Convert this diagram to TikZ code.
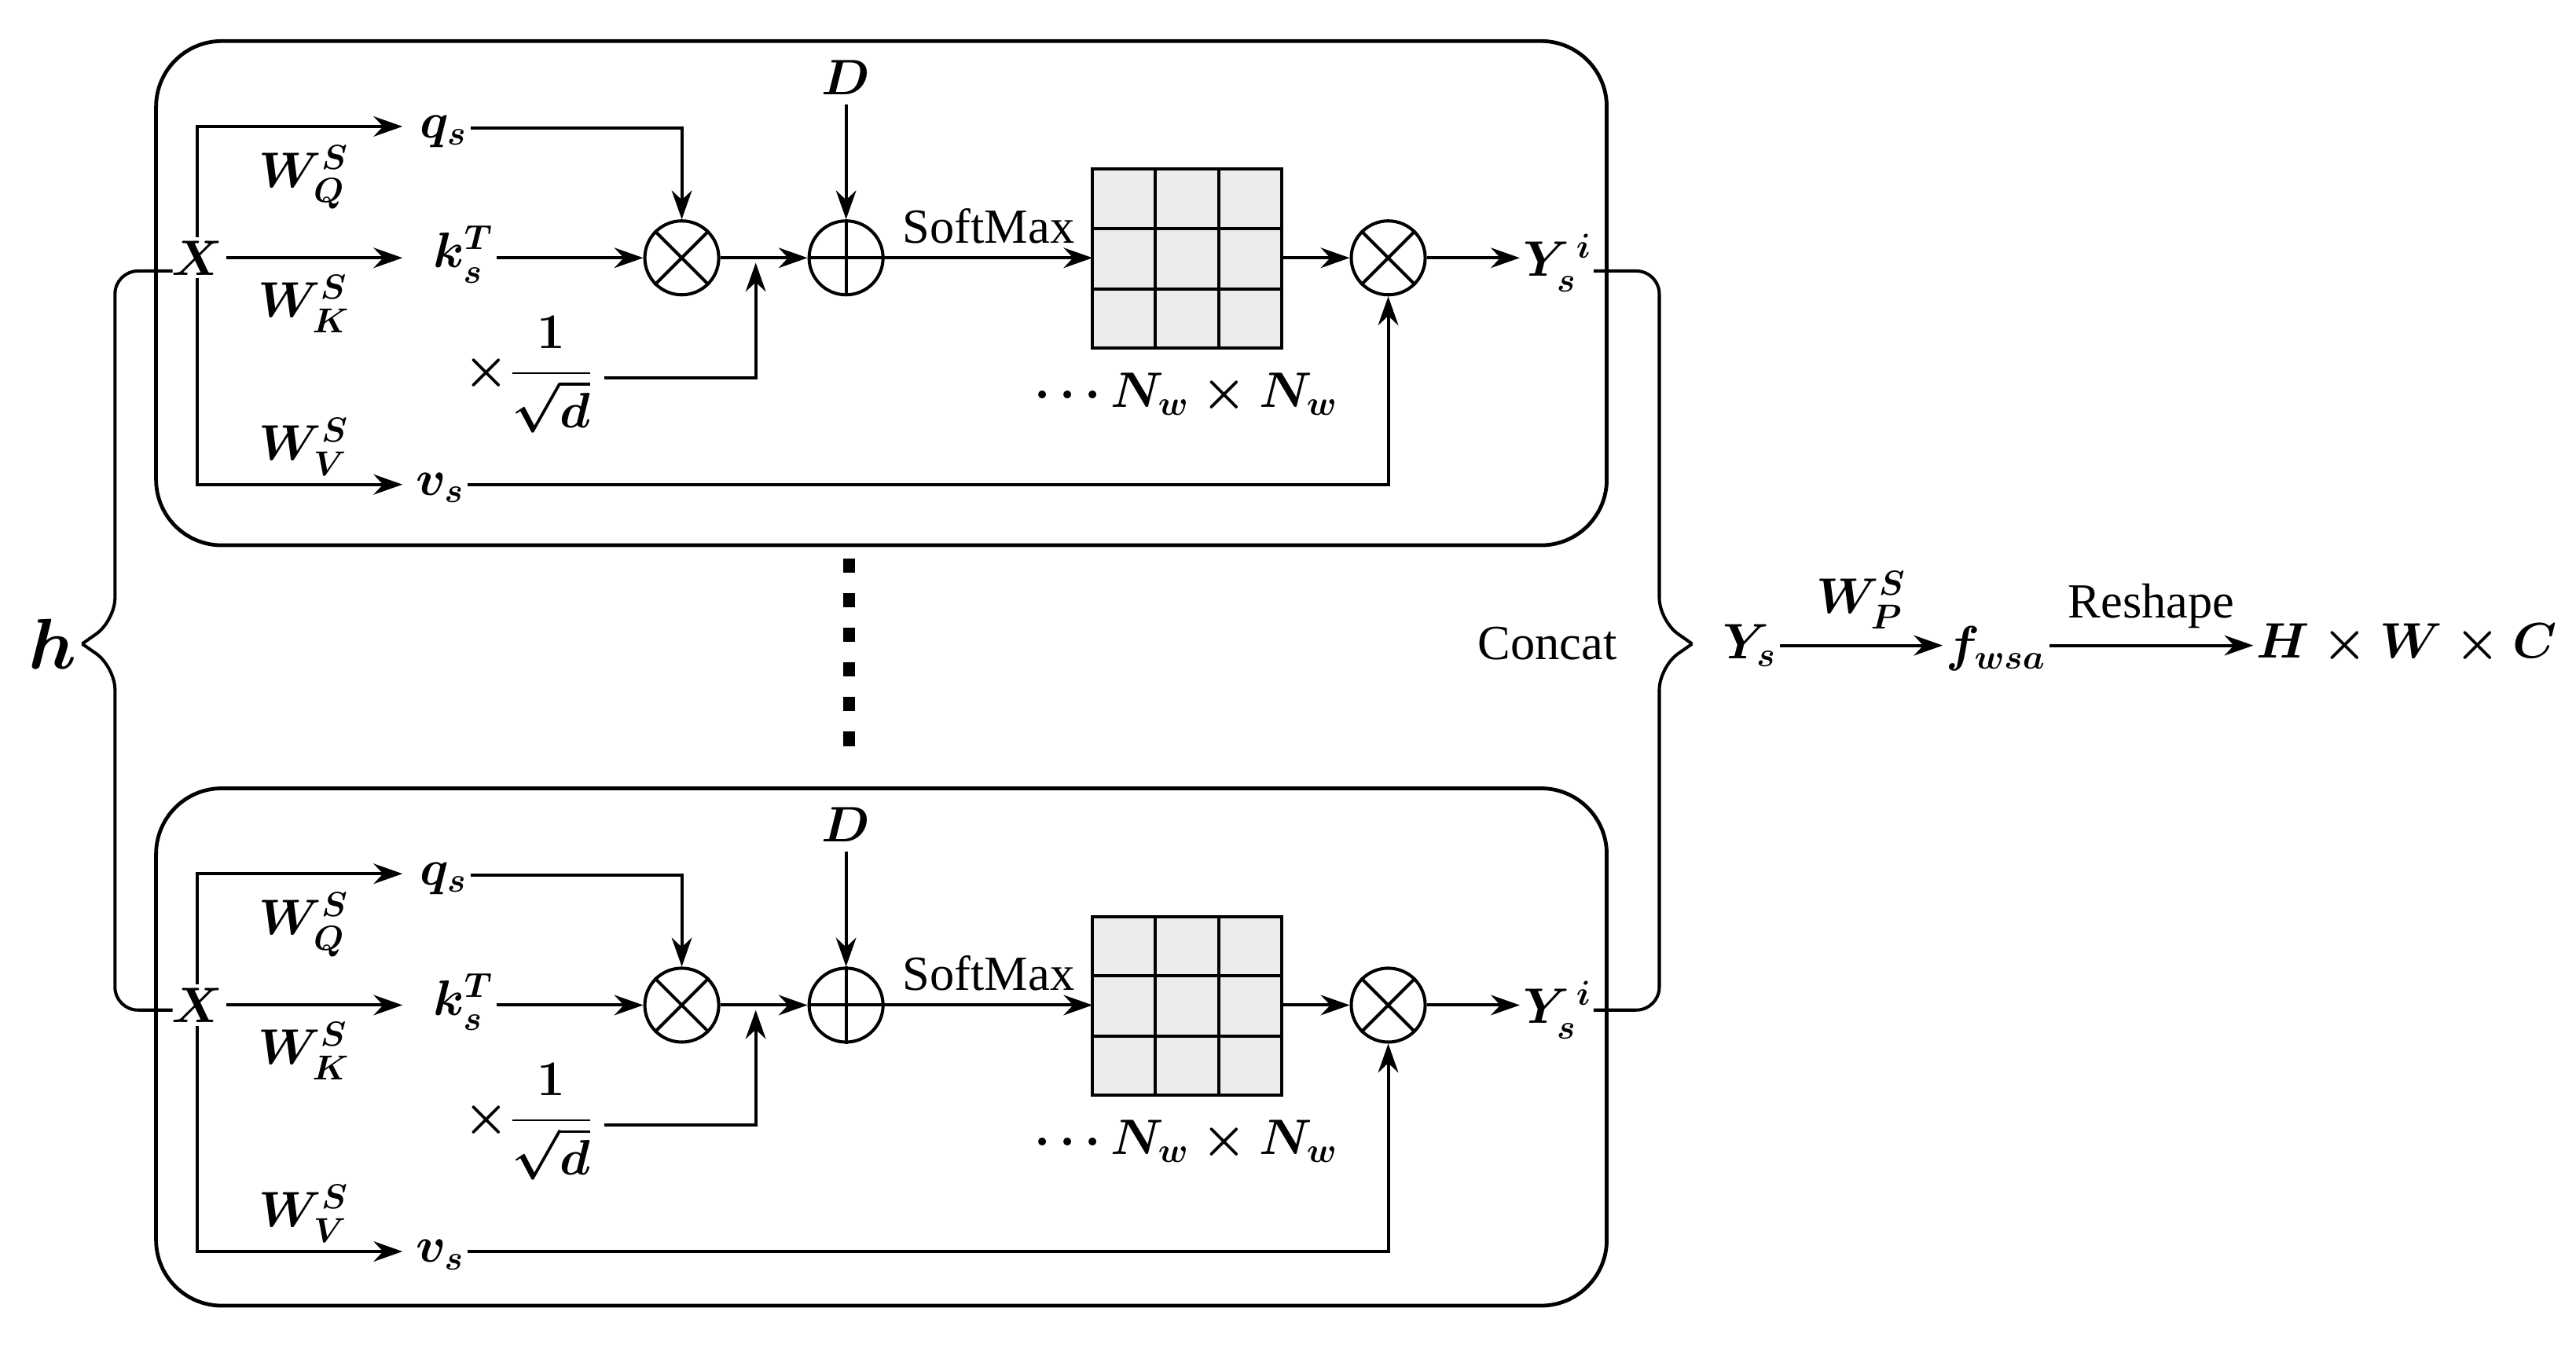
\documentclass[tikz,border=0pt]{standalone}
\usepackage{amsmath,amssymb,bm}
\usepackage{fontspec}
\setmainfont{Liberation Serif}
\usetikzlibrary{arrows.meta}
\tikzset{
  ar/.style={-{Stealth[length=10pt,width=7pt]},line width=1.1pt},
  ln/.style={line width=1.1pt},
  op/.style={circle,draw,line width=1.1pt,minimum size=45*0.02cm,inner sep=0pt},
  lb/.style={inner sep=1pt}
}
\newcommand\headblk[4]{% #1 prefix, #2 y offset, #3 v_s y, #4 box bottom
\begin{scope}[yshift=-#2*0.02cm]
\draw[line width=1.3pt,rounded corners=40*0.02cm] (95,25) rectangle (978,#4);
\node[lb] (#1X) at (120,157) {$X$};
\node[lb] (#1q) at (270,80) {$q_s$};
\node[lb] (#1k) at (282,155) {$k_s^T$};
\node[lb] (#1v) at (268,#3+2) {$v_s$};
\node at (185,108) {$W_Q^S$};
\node at (185,185) {$W_K^S$};
\node at (185,#3-23) {$W_V^S$};
\node[op] (#1m1) at (415,157) {};
\node[op] (#1p) at (515,157) {};
\node[op] (#1m2) at (845,157) {};
\foreach \n in {m1,m2}{\draw[ln] (#1\n.45)--(#1\n.225) (#1\n.135)--(#1\n.315);}
\draw[ln] (#1p.north)--(#1p.south) (#1p.west)--(#1p.east);
\node (#1D) at (515,47) {$D$};
\node (#1s) at (322,228) {$\times\dfrac{1}{\sqrt{d}}$};
\draw[ln,fill=gray!15] (665,103) rectangle (780,212);
\draw[ln] (703,103)--(703,212) (742,103)--(742,212) (665,139)--(780,139) (665,176)--(780,176);
\coordinate (#1gw) at (665,157); \coordinate (#1ge) at (780,157);
\node at (722,240) {$\cdots N_w\times N_w$};
\node[lb] (#1Y) at (948,160) {$Y_s^{\,i}$};
\coordinate (#1Xa) at (120,77); \coordinate (#1Xb) at (120,#3);
\coordinate (#1c) at (460,230);
\coordinate (#1qy) at (0,78); \coordinate (#1vy) at (0,#3);
\draw[ar] (#1X.north) -- (#1Xa) -- (245,77);
\draw[ar] (#1X.east) -- (245,157);
\draw[ar] (#1X.south) -- (#1Xb) -- (245,#3);
\draw[ar] (#1q.east |- #1qy) -| (#1m1.north);
\draw[ar] (#1k.east |- #1m1) -- (#1m1.west);
\draw[ar] (#1m1.east) -- (#1p.west);
\draw[ar] (#1s.east |- #1c) -- (#1c) -- (460,160);
\draw[ar] (#1D.south) -- (#1p.north);
\draw[ar] (#1p.east) -- node[above=1pt]{SoftMax} (#1gw);
\draw[ar] (#1ge) -- (#1m2.west);
\draw[ar] (#1m2.east) -- (#1Y.west |- #1m2);
\draw[ar] (#1v.east |- #1vy) -| (#1m2.south);
\end{scope}}
\begin{document}
\begin{tikzpicture}[x=0.02cm,y=-0.02cm,font=\fontsize{17}{20}\selectfont\boldmath]
\useasboundingbox (0,0) rectangle (1568,823);
\headblk{a}{0}{295}{332}
\headblk{b}{455}{307}{340}
\draw[line width=4pt,dash pattern=on 5pt off 7pt] (517,340)--(517,466);
\node (h) at (32,392) {\fontsize{24}{26}\selectfont$\bm{h}$};
\draw[ln,rounded corners=14*0.02cm] (105,165)--(70,165)--(70,378)--(50,392);
\draw[ln,rounded corners=14*0.02cm] (105,615)--(70,615)--(70,406)--(50,392);
\draw[ln,rounded corners=14*0.02cm] (970,165)--(1010,165)--(1010,378)--(1030,392);
\draw[ln,rounded corners=14*0.02cm] (970,615)--(1010,615)--(1010,406)--(1030,392);
\node at (942,392) {Concat};
\node[lb] (Ys) at (1065,393) {$Y_s$};
\node[lb] (f) at (1215,395) {$f_{wsa}$};
\node[lb] (H) at (1465,392) {$H\times W\times C$};
\draw[ar] (Ys.east) -- node[above=2pt]{$W_P^S$} (f.west |- Ys);
\draw[ar] (f.east |- Ys) -- node[above=2pt]{Reshape} (H.west |- Ys);
\end{tikzpicture}
\end{document}
